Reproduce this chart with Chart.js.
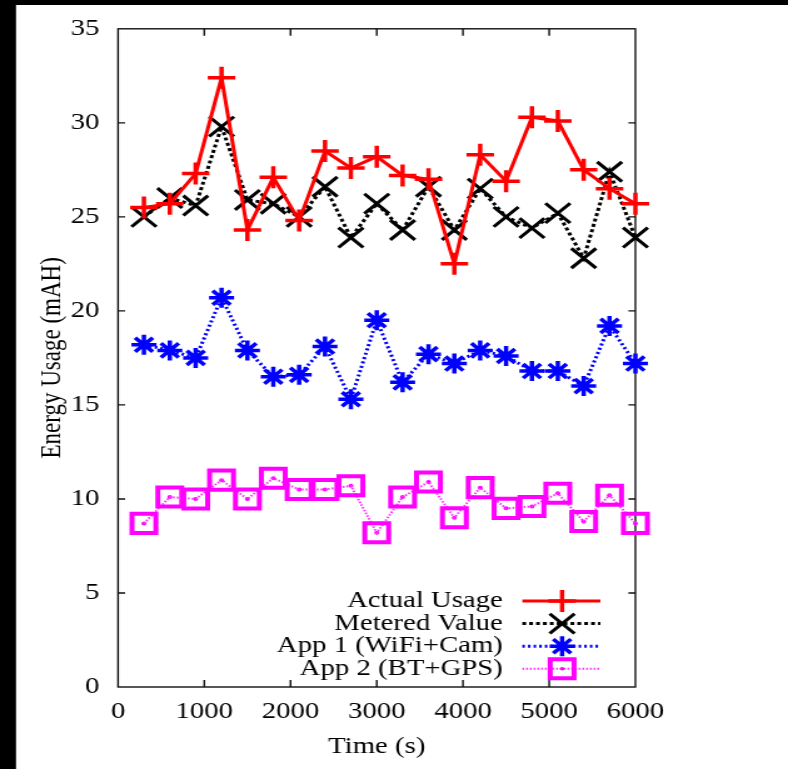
<!DOCTYPE html>
<html>
<head>
<meta charset="utf-8">
<title>Energy Usage</title>
<script src="https://cdn.jsdelivr.net/npm/chart.js"></script>
<style>
  html, body { margin: 0; padding: 0; background: #fff; overflow: hidden; }
  /* the original figure is stretched horizontally, so the canvas is drawn narrow and widened */
  #energyChart { display: block; width: 788px; height: 769px; }
</style>
</head>
<body>
<canvas id="energyChart" width="630" height="769" style="width:788px;height:769px"></canvas>
<script>
// Sample times (s)
const times = [300, 600, 900, 1200, 1500, 1800, 2100, 2400, 2700, 3000,
               3300, 3600, 3900, 4200, 4500, 4800, 5100, 5400, 5700, 6000];

// Energy usage (mAH) per series
const actualUsage  = [25.5, 25.7, 27.3, 32.4, 24.3, 27.1, 24.8, 28.5, 27.6, 28.2,
                      27.2, 27.0, 22.5, 28.3, 26.9, 30.3, 30.1, 27.5, 26.5, 25.7];
const meteredValue = [25.0, 26.0, 25.6, 29.8, 25.9, 25.7, 25.0, 26.6, 23.9, 25.7,
                      24.3, 26.6, 24.3, 26.5, 25.0, 24.4, 25.2, 22.8, 27.4, 23.9];
const app1WifiCam  = [18.2, 17.9, 17.5, 20.7, 17.9, 16.5, 16.6, 18.1, 15.3, 19.5,
                      16.2, 17.7, 17.2, 17.9, 17.6, 16.8, 16.8, 16.0, 19.2, 17.2];
const app2BtGps    = [8.7, 10.1, 10.0, 11.0, 10.0, 11.1, 10.5, 10.5, 10.7, 8.2,
                      10.1, 10.9, 9.0, 10.6, 9.5, 9.6, 10.3, 8.8, 10.2, 8.7];

const seriesLabels = ['Actual Usage', 'Metered Value', 'App 1 (WiFi+Cam)', 'App 2 (BT+GPS)'];
const xTicks = [0, 1000, 2000, 3000, 4000, 5000, 6000];
const yTicks = [0, 5, 10, 15, 20, 25, 30, 35];

const FONT = '"Liberation Serif", "Times New Roman", serif';
const FONT_SIZE = 23;

function toPoints(values) {
    return times.map((t, i) => ({ x: t, y: values[i] }));
}

// white page with the black strips of the scanned figure
const backgroundPlugin = {
    id: 'paper',
    beforeDraw(chart) {
        const ctx = chart.ctx;
        ctx.save();
        ctx.fillStyle = '#fff';
        ctx.fillRect(0, 0, chart.width, chart.height);
        ctx.fillStyle = '#000';
        ctx.fillRect(0, 0, chart.width, 5);
        ctx.fillRect(0, 0, 12.8, chart.height);
        ctx.restore();
    }
};

// gnuplot style box with inward ticks on all four sides
const framePlugin = {
    id: 'frame',
    beforeDatasetsDraw(chart) {
        const { ctx, chartArea: a, scales: { x, y } } = chart;
        ctx.save();
        ctx.strokeStyle = '#111';
        ctx.lineWidth = 1.4;
        ctx.strokeRect(a.left, a.top, a.right - a.left, a.bottom - a.top);
        ctx.beginPath();
        xTicks.forEach(v => {
            if (v <= x.min || v >= x.max) return;
            const px = x.getPixelForValue(v);
            ctx.moveTo(px, a.bottom); ctx.lineTo(px, a.bottom - 7);
            ctx.moveTo(px, a.top); ctx.lineTo(px, a.top + 7);
        });
        yTicks.forEach(v => {
            if (v <= y.min || v >= y.max) return;
            const py = y.getPixelForValue(v);
            ctx.moveTo(a.left, py); ctx.lineTo(a.left + 5.6, py);
            ctx.moveTo(a.right, py); ctx.lineTo(a.right - 5.6, py);
        });
        ctx.stroke();
        ctx.restore();
    }
};

function drawMarker(ctx, style, r, x, y) {
    ctx.beginPath();
    const d = r * Math.SQRT1_2;
    if (style === 'cross' || style === 'star') {
        ctx.moveTo(x, y - r); ctx.lineTo(x, y + r);
        ctx.moveTo(x - r, y); ctx.lineTo(x + r, y);
    }
    if (style === 'crossRot' || style === 'star') {
        ctx.moveTo(x - d, y - d); ctx.lineTo(x + d, y + d);
        ctx.moveTo(x - d, y + d); ctx.lineTo(x + d, y - d);
    }
    if (style === 'rect') {
        ctx.rect(x - d, y - d, 2 * d, 2 * d);
    }
    ctx.stroke();
}

// key in the lower right corner: text, then line sample with marker
const legendPlugin = {
    id: 'gnuKey',
    afterDraw(chart) {
        const ctx = chart.ctx;
        ctx.save();
        ctx.font = FONT_SIZE + 'px ' + FONT;
        ctx.textAlign = 'right';
        ctx.textBaseline = 'middle';
        chart.data.datasets.forEach((ds, i) => {
            if (ds.keySkip) return;
            const y = 601 + i * 22.6;
            ctx.fillStyle = '#000';
            ctx.fillText(ds.label, 402, y);
            ctx.strokeStyle = ds.borderColor;
            ctx.lineWidth = ds.borderWidth;
            ctx.setLineDash(ds.borderDash || []);
            ctx.beginPath();
            ctx.moveTo(417.6, y);
            ctx.lineTo(480, y);
            ctx.stroke();
            ctx.setLineDash([]);
            ctx.strokeStyle = ds.pointBorderColor;
            ctx.lineWidth = ds.pointBorderWidth;
            drawMarker(ctx, ds.pointStyle, ds.pointRadius, 449.4, y);
            if (ds.pointStyle === 'rect') {
                ctx.fillStyle = ds.pointBorderColor;
                ctx.beginPath();
                ctx.arc(449.4, y, 1.8, 0, Math.PI * 2);
                ctx.fill();
            }
        });
        ctx.restore();
    }
};

function createEnergyChart() {
    const canvas = document.getElementById('energyChart');
    const ctx = canvas.getContext('2d');

    new Chart(ctx, {
        type: 'line',
        data: {
            datasets: [
                {
                    label: seriesLabels[0],
                    data: toPoints(actualUsage),
                    borderColor: '#ff0000',
                    borderWidth: 3,
                    pointStyle: 'cross',
                    pointRadius: 11,
                    pointBorderWidth: 3.5,
                    pointBorderColor: '#ff0000',
                    pointBackgroundColor: 'rgba(0,0,0,0)'
                },
                {
                    label: seriesLabels[1],
                    data: toPoints(meteredValue),
                    borderColor: '#000000',
                    borderWidth: 3,
                    borderDash: [3, 2.5],
                    pointStyle: 'crossRot',
                    pointRadius: 14,
                    pointBorderWidth: 3,
                    pointBorderColor: '#000000',
                    pointBackgroundColor: 'rgba(0,0,0,0)'
                },
                {
                    label: seriesLabels[2],
                    data: toPoints(app1WifiCam),
                    borderColor: '#0000ff',
                    borderWidth: 3,
                    borderDash: [2, 2.5],
                    pointStyle: 'star',
                    pointRadius: 10,
                    pointBorderWidth: 3.5,
                    pointBorderColor: '#0000ff',
                    pointBackgroundColor: 'rgba(0,0,0,0)'
                },
                {
                    label: seriesLabels[3],
                    data: toPoints(app2BtGps),
                    borderColor: '#ff33ff',
                    borderWidth: 2,
                    borderDash: [1.5, 1.5],
                    pointStyle: 'rect',
                    pointRadius: 13.5,
                    pointBorderWidth: 4,
                    pointBorderColor: '#ff00ff',
                    pointBackgroundColor: 'rgba(0,0,0,0)'
                },
                {
                    // centre dots of the App 2 squares
                    label: seriesLabels[3] + ' dots',
                    keySkip: true,
                    data: toPoints(app2BtGps),
                    showLine: false,
                    pointStyle: 'circle',
                    pointRadius: 2,
                    pointBorderWidth: 0,
                    pointBackgroundColor: '#ff00ff'
                }
            ]
        },
        options: {
            responsive: false,
            animation: false,
            devicePixelRatio: 1,
            clip: false,
            layout: {
                padding: { top: 27, right: 122, bottom: 0, left: 0 }
            },
            plugins: {
                legend: { display: false },
                tooltip: { enabled: false }
            },
            scales: {
                x: {
                    type: 'linear',
                    min: 0,
                    max: 6000,
                    afterFit: scale => { scale.height = 82; },
                    afterBuildTicks: scale => { scale.ticks = xTicks.map(v => ({ value: v })); },
                    grid: { display: false, drawTicks: false },
                    border: { display: false },
                    ticks: {
                        padding: 11,
                        maxRotation: 0,
                        color: '#000',
                        font: { family: FONT, size: FONT_SIZE },
                        callback: value => String(value)
                    },
                    title: {
                        display: true,
                        text: 'Time (s)',
                        color: '#000',
                        font: { family: FONT, size: FONT_SIZE },
                        padding: { top: 0, bottom: 8.5 }
                    }
                },
                y: {
                    min: 0,
                    max: 35,
                    afterFit: scale => { scale.width = 94.4; },
                    afterBuildTicks: scale => { scale.ticks = yTicks.map(v => ({ value: v })); },
                    grid: { display: false, drawTicks: false },
                    border: { display: false },
                    ticks: {
                        padding: 15,
                        color: '#000',
                        font: { family: FONT, size: FONT_SIZE },
                        callback: value => String(value)
                    },
                    title: {
                        display: true,
                        text: 'Energy Usage (mAH)',
                        color: '#000',
                        font: { family: FONT, size: FONT_SIZE },
                        padding: { top: 28.5, bottom: 0 }
                    }
                }
            }
        },
        plugins: [backgroundPlugin, framePlugin, legendPlugin]
    });
}

createEnergyChart();
</script>
</body>
</html>
